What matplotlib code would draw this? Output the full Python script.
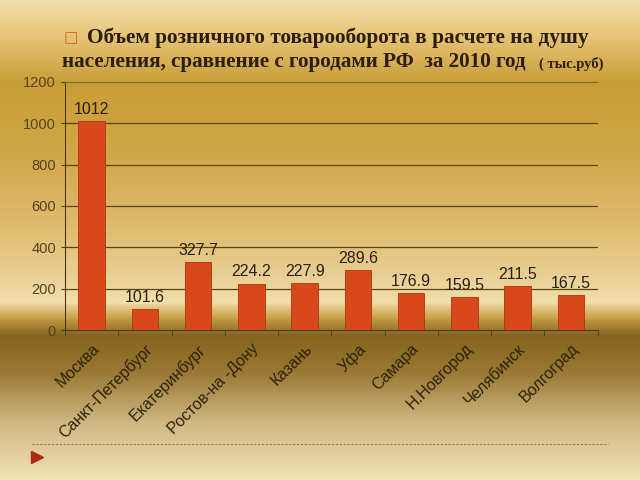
import numpy as np
import matplotlib.pyplot as plt
from matplotlib.colors import LinearSegmentedColormap

# Data
cities = ['Москва', 'Санкт-Петербург', 'Екатеринбург', 'Ростов-на -Дону', 'Казань',
          'Уфа', 'Самара', 'Н.Новгород', 'Челябинск', 'Волгоград']
values = [1012, 101.6, 327.7, 224.2, 227.9, 289.6, 176.9, 159.5, 211.5, 167.5]
labels = ['1012', '101.6', '327.7', '224.2', '227.9', '289.6', '176.9', '159.5', '211.5', '167.5']
yticks = [0, 200, 400, 600, 800, 1000, 1200]

plt.rcParams['font.family'] = ['Liberation Sans', 'DejaVu Sans']

fig = plt.figure(figsize=(6.4, 4.8), dpi=100)

# background gradient (top -> bottom)
bg = fig.add_axes([0, 0, 1, 1])
stops = [(0.00, '#f2dfae'), (0.07, '#e6c677'), (0.17, '#c99d36'), (0.30, '#cfa645'),
         (0.45, '#dcb868'), (0.58, '#ead096'), (0.63, '#f3dfaa'), (0.665, '#c49c44'),
         (0.70, '#83631d'), (0.78, '#9a7a36'), (0.88, '#cfb67f'), (1.00, '#f3e2b4')]
cmap = LinearSegmentedColormap.from_list('bg', stops)
grad = np.linspace(0, 1, 480).reshape(-1, 1)
bg.imshow(grad, aspect='auto', cmap=cmap, extent=[0, 1, 0, 1])
bg.set_xlim(0, 1)
bg.set_ylim(0, 1)
bg.axis('off')

# bottom dotted line and red marker
bg.plot([0.05, 0.95], [1 - 444 / 480, 1 - 444 / 480], color='#8a7a5a', lw=0.8, ls=(0, (2, 1.5)))
bg.plot([0.058], [1 - 457 / 480], marker='>', color='#b02a10', markersize=8)

# title
fig.text(0.099, 1 - 38 / 480, '□', color='#e0601a', fontsize=11, va='center',
         family=['DejaVu Sans'])
fig.text(0.136, 1 - 38 / 480, 'Объем розничного товарооборота в расчете на душу',
         fontsize=15.3, fontweight='bold', family=['Liberation Serif'], color='#2b1d05', va='center')
fig.text(0.097, 1 - 62 / 480, 'населения, сравнение с городами РФ  за 2010 год',
         fontsize=15.2, fontweight='bold', family=['Liberation Serif'], color='#2b1d05', va='center')
fig.text(0.842, 1 - 68 / 480, '( тыс.руб)', fontsize=10.5, fontweight='bold',
         family=['Liberation Serif'], color='#2b1d05', va='baseline')

# chart
ax = fig.add_axes([0.1016, 0.3125, 0.832, 0.517])
ax.patch.set_alpha(0)
x = np.arange(len(cities))
ax.bar(x, values, width=0.5, color='#d8481a', edgecolor='#a8360f', linewidth=0.6, zorder=3)
for xi, v, t in zip(x, values, labels):
    ax.annotate(t, (xi, v), xytext=(0, 3), textcoords='offset points', ha='center',
                va='bottom', fontsize=11.5, color='#2a2010')

ax.set_ylim(0, 1200)
ax.set_xlim(-0.5, len(cities) - 0.5)
ax.set_yticks(yticks)
ax.tick_params(axis='y', labelsize=10.5, labelcolor='#54421c', color='#4a3a12', length=3)
for y in yticks[1:-1]:
    ax.axhline(y, color='#5c4412', lw=0.9, zorder=1)

ax.set_xticks(x)
ax.set_xticklabels(cities, rotation=45, ha='right', rotation_mode='anchor',
                   fontsize=11.5, color='#2e2208')
ax.set_xticks(np.arange(-0.5, len(cities)), minor=True)
ax.tick_params(axis='x', which='major', length=0, pad=8)
ax.tick_params(axis='x', which='minor', length=4, color='#4a3a12')

for s in ['left', 'bottom']:
    ax.spines[s].set_color('#4a3a12')
ax.spines['right'].set_visible(False)
ax.spines['top'].set_color('#7a6a40')
ax.spines['top'].set_linestyle((0, (1, 1)))

fig.savefig('out.png', dpi=100)
